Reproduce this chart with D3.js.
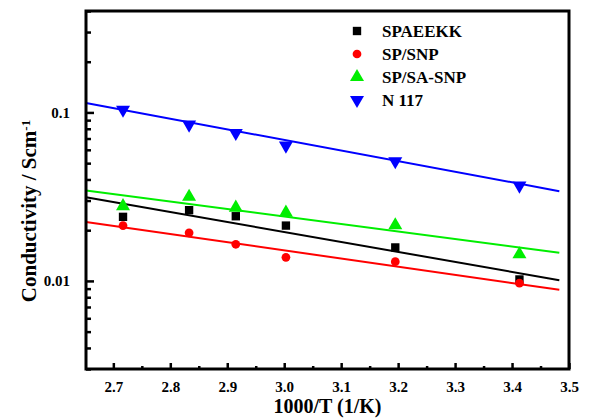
<!DOCTYPE html>
<html>
<head>
<meta charset="utf-8">
<script src="https://cdn.jsdelivr.net/npm/d3@7"></script>
<style>
  body { margin: 0; background: #fff; }
  svg text { font-family: 'Liberation Serif', 'Times New Roman', Times, serif !important; font-weight: bold; }
</style>
</head>
<body>
<div id="chart"></div>
<script>
// 1000/T values of the measurements
const invT = [2.717, 2.833, 2.915, 3.003, 3.195, 3.413];

const spaeekk = [0.0240, 0.0263, 0.0242, 0.0213, 0.0158, 0.0102];
const spSnp = [0.0213, 0.0193, 0.0165, 0.0138, 0.0130, 0.0097];
const spSaSnp = [0.0278, 0.0316, 0.0272, 0.0254, 0.0214, 0.0144];
const n117 = [0.1037, 0.0846, 0.0755, 0.0636, 0.0513, 0.0368];

// fitted lines, read at their two ends
const fitX = [2.652, 3.483];
const fitSpaeekk = [0.0314, 0.0101];
const fitSpSnp = [0.0224, 0.00885];
const fitSpSaSnp = [0.0344, 0.0147];
const fitN117 = [0.1137, 0.0341];

const xTicks = [2.7, 2.8, 2.9, 3.0, 3.1, 3.2, 3.3, 3.4, 3.5];
const yTicks = [0.01, 0.1];

const series = [
  { name: 'SPAEEKK', values: spaeekk, fit: fitSpaeekk, color: '#000000', symbol: d3.symbolSquare, size: 70, rot: 0 },
  { name: 'SP/SNP', values: spSnp, fit: fitSpSnp, color: '#ff0000', symbol: d3.symbolCircle, size: 60, rot: 0 },
  { name: 'SP/SA-SNP', values: spSaSnp, fit: fitSpSaSnp, color: '#00ee00', symbol: d3.symbolTriangle, size: 85, rot: 0 },
  { name: 'N 117', values: n117, fit: fitN117, color: '#0000ff', symbol: d3.symbolTriangle, size: 85, rot: 180 }
];

const serif = "'Liberation Serif', 'Times New Roman', Times, serif";

const W = 590, H = 420;
const margin = { left: 86, top: 11, right: 21, bottom: 51 };
const width = W - margin.left - margin.right;
const height = H - margin.top - margin.bottom;

const svg = d3.select('#chart').append('svg')
  .attr('width', W)
  .attr('height', H)
  .style('font-family', serif);

const g = svg.append('g')
  .attr('transform', `translate(${margin.left}, ${margin.top})`);

const x = d3.scaleLinear().domain([2.652, 3.5]).range([0, width]);
const y = d3.scaleLog().domain([0.003, 0.4]).range([height, 0]);

// minor ticks
const xMinor = xTicks.slice(0, -1).map((t) => t + 0.05);
const yMinor = [];
[0.001, 0.01, 0.1].forEach((dec) => {
  for (let k = 2; k <= 9; k++) {
    const v = dec * k;
    if (v >= 0.003 && v <= 0.4) yMinor.push(v);
  }
});

// x axis
g.append('g')
  .attr('transform', `translate(0, ${height})`)
  .call(d3.axisBottom(x).tickValues(xMinor).tickSize(-3).tickFormat(''))
  .call((a) => a.select('.domain').remove())
  .call((a) => a.selectAll('line').attr('stroke-width', 2.5));

g.append('g')
  .attr('transform', `translate(0, ${height})`)
  .attr('font-family', null)
  .call(d3.axisBottom(x).tickValues(xTicks).tickSize(-6).tickPadding(12).tickFormat(d3.format('.1f')))
  .call((a) => a.select('.domain').remove())
  .call((a) => a.selectAll('line').attr('stroke-width', 2.5))
  .call((a) => a.selectAll('text').attr('font-size', 15).attr('fill', '#000').style('font-family', serif));

// y axis
g.append('g')
  .call(d3.axisLeft(y).tickValues(yMinor).tickSize(-5).tickFormat(''))
  .call((a) => a.select('.domain').remove())
  .call((a) => a.selectAll('line').attr('stroke-width', 2.5));

g.append('g')
  .call(d3.axisLeft(y).tickValues(yTicks).tickSize(-8).tickPadding(16).tickFormat((d) => d))
  .call((a) => a.select('.domain').remove())
  .call((a) => a.selectAll('line').attr('stroke-width', 2.5))
  .call((a) => a.selectAll('text').attr('font-size', 15).attr('fill', '#000').style('font-family', serif));

// fit lines
const line = d3.line()
  .x((d) => x(d[0]))
  .y((d) => y(d[1]));

g.append('g').attr('class', 'fits')
  .selectAll('path')
  .data(series)
  .join('path')
  .attr('d', (s) => line(fitX.map((v, i) => [v, s.fit[i]])))
  .attr('fill', 'none')
  .attr('stroke', (s) => s.color)
  .attr('stroke-width', 2);

// markers
const markG = g.append('g').attr('class', 'marks');
series.forEach((s) => {
  markG.selectAll(null)
    .data(s.values)
    .join('path')
    .attr('d', d3.symbol().type(s.symbol).size(s.size))
    .attr('transform', (d, i) => `translate(${x(invT[i])}, ${y(d)}) rotate(${s.rot})`)
    .attr('fill', s.color);
});

// frame
g.append('rect')
  .attr('width', width)
  .attr('height', height)
  .attr('fill', 'none')
  .attr('stroke', '#000')
  .attr('stroke-width', 3);

// legend
const legend = g.append('g')
  .attr('transform', `translate(${357 - margin.left}, ${31 - margin.top})`);
const item = legend.selectAll('g')
  .data(series)
  .join('g')
  .attr('transform', (d, i) => `translate(0, ${i * 23})`);
item.append('path')
  .attr('d', (s) => d3.symbol().type(s.symbol).size(s.size)())
  .attr('transform', (s) => `rotate(${s.rot})`)
  .attr('fill', (s) => s.color);
item.append('text')
  .attr('x', 25)
  .attr('dy', '0.35em')
  .attr('font-size', 17)
  .style('font-family', serif)
  .text((s) => s.name);

// axis titles
svg.append('text')
  .attr('x', margin.left + width / 2)
  .attr('y', 413)
  .attr('text-anchor', 'middle')
  .attr('font-size', 20)
  .style('font-family', serif)
  .text('1000/T (1/K)');

const yTitle = svg.append('text')
  .attr('transform', `translate(36, ${margin.top + 200}) rotate(-90)`)
  .attr('text-anchor', 'middle')
  .attr('font-size', 21)
  .style('font-family', serif);
yTitle.append('tspan').text('Conductivity / Scm');
yTitle.append('tspan').attr('dy', '-0.5em').attr('font-size', 13).text('-1');
</script>
</body>
</html>
